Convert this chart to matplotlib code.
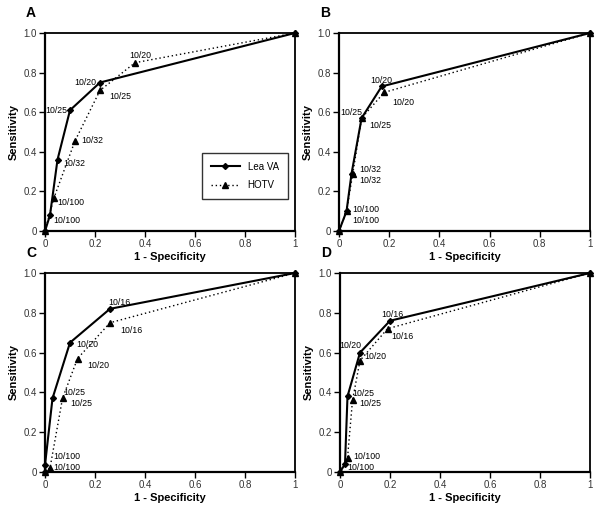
import matplotlib
matplotlib.use("Agg")
import matplotlib.pyplot as plt

plt.rcParams["font.family"] = ["Liberation Sans", "DejaVu Sans"]

# ROC points (1 - specificity, sensitivity) per panel
lea_x = {
    "A": [0, 0.02, 0.05, 0.10, 0.22, 1],
    "B": [0, 0.03, 0.05, 0.09, 0.17, 1],
    "C": [0, 0.00, 0.03, 0.10, 0.26, 1],
    "D": [0, 0.02, 0.03, 0.08, 0.20, 1],
}
lea_y = {
    "A": [0, 0.08, 0.36, 0.61, 0.75, 1],
    "B": [0, 0.10, 0.29, 0.57, 0.73, 1],
    "C": [0, 0.035, 0.37, 0.65, 0.82, 1],
    "D": [0, 0.04, 0.38, 0.60, 0.76, 1],
}
hotv_x = {
    "A": [0, 0.035, 0.12, 0.22, 0.36, 1],
    "B": [0, 0.03, 0.055, 0.09, 0.18, 1],
    "C": [0, 0.02, 0.07, 0.13, 0.26, 1],
    "D": [0, 0.03, 0.05, 0.08, 0.19, 1],
}
hotv_y = {
    "A": [0, 0.165, 0.455, 0.71, 0.85, 1],
    "B": [0, 0.10, 0.29, 0.57, 0.70, 1],
    "C": [0, 0.02, 0.37, 0.57, 0.75, 1],
    "D": [0, 0.07, 0.36, 0.56, 0.72, 1],
}
# cut-off labels for the inner points (indices 1..4)
lea_labels = {
    "A": ["10/100", "10/32", "10/25", "10/20"],
    "B": ["10/100", "10/32", "10/25", "10/20"],
    "C": ["10/100", "10/25", "10/20", "10/16"],
    "D": ["10/100", "10/25", "10/20", "10/16"],
}
hotv_labels = lea_labels

# label placement: (dx px, dy px, ha)
lea_offsets = {
    "A": [(3, -5, "left"), (6, -4, "left"), (-3, 0, "right"), (-4, 0, "right")],
    "B": [(6, 2, "left"), (8, 4, "left"), (1, 6, "right"), (0, 6, "center")],
    "C": [(8, 9, "left"), (11, 6, "left"), (6, -2, "left"), (-2, 6, "left")],
    "D": [(2, -3, "left"), (5, 3, "left"), (1, 7, "right"), (-9, 6, "left")],
}
hotv_offsets = {
    "A": [(4, -4, "left"), (6, 0, "left"), (9, -6, "left"), (-6, 7, "left")],
    "B": [(6, -9, "left"), (6, -7, "left"), (8, -7, "left"), (8, -10, "left")],
    "C": [(3, 1, "left"), (8, -5, "left"), (10, -7, "left"), (10, -8, "left")],
    "D": [(6, 2, "left"), (7, -3, "left"), (4, 4, "left"), (4, -8, "left")],
}

W, H = 600, 509
# axes boxes in pixels: left, top, right, bottom
boxes = {
    "A": (45, 33, 295, 231),
    "B": (339, 33, 590, 231),
    "C": (45, 273, 295, 472),
    "D": (340, 273, 590, 472),
}

fig = plt.figure(figsize=(6.0, 5.09), dpi=100)

for key, (l, t, r, b) in boxes.items():
    ax = fig.add_axes([l / W, (H - b) / H, (r - l) / W, (b - t) / H])

    ax.plot(hotv_x[key], hotv_y[key], color="black", linestyle=(0, (1, 2)),
            linewidth=1.0, marker="^", markersize=4.5, label="HOTV", zorder=3)
    ax.plot(lea_x[key], lea_y[key], color="black", linestyle="-",
            linewidth=1.5, marker="D", markersize=3, label="Lea VA", zorder=4)

    for i in range(4):
        dx, dy, ha = lea_offsets[key][i]
        ax.annotate(lea_labels[key][i], (lea_x[key][i + 1], lea_y[key][i + 1]),
                    xytext=(dx, dy), textcoords="offset pixels",
                    ha=ha, va="center", fontsize=6.3)
        dx, dy, ha = hotv_offsets[key][i]
        ax.annotate(hotv_labels[key][i], (hotv_x[key][i + 1], hotv_y[key][i + 1]),
                    xytext=(dx, dy), textcoords="offset pixels",
                    ha=ha, va="center", fontsize=6.3)

    ax.set_xlim(0, 1)
    ax.set_ylim(0, 1)
    ax.set_xticks([0, 0.2, 0.4, 0.6, 0.8, 1])
    ax.set_xticklabels(["0", "0.2", "0.4", "0.6", "0.8", "1"])
    ax.set_yticks([0, 0.2, 0.4, 0.6, 0.8, 1.0])
    ax.set_yticklabels(["0", "0.2", "0.4", "0.6", "0.8", "1.0"])
    ax.tick_params(direction="out", length=4, width=1, labelsize=7, pad=2,
                   colors="black", labelcolor="#333333")
    for side in ["left", "bottom"]:
        ax.spines[side].set_linewidth(1.6)
    for side in ["top", "right"]:
        ax.spines[side].set_linewidth(1.3)
    for line in ax.lines:
        line.set_clip_on(False)

    ax.set_xlabel("1 - Specificity", fontsize=8, fontweight="bold", labelpad=2)
    ax.set_ylabel("Sensitivity", fontsize=8, fontweight="bold", labelpad=3)

    fig.text((l - 14) / W, (H - t + 20) / H, key, fontsize=10,
             fontweight="bold", ha="center", va="center")

    if key == "A":
        handles, labels = ax.get_legend_handles_labels()
        leg = ax.legend(handles[::-1], labels[::-1], loc="upper left",
                        bbox_to_anchor=(0.628, 0.394), borderaxespad=0,
                        fontsize=7, frameon=True, fancybox=False,
                        edgecolor="black", handlelength=3.0, borderpad=0.9,
                        labelspacing=0.9)
        leg.get_frame().set_linewidth(1.0)

fig.savefig("out.png", dpi=100)
